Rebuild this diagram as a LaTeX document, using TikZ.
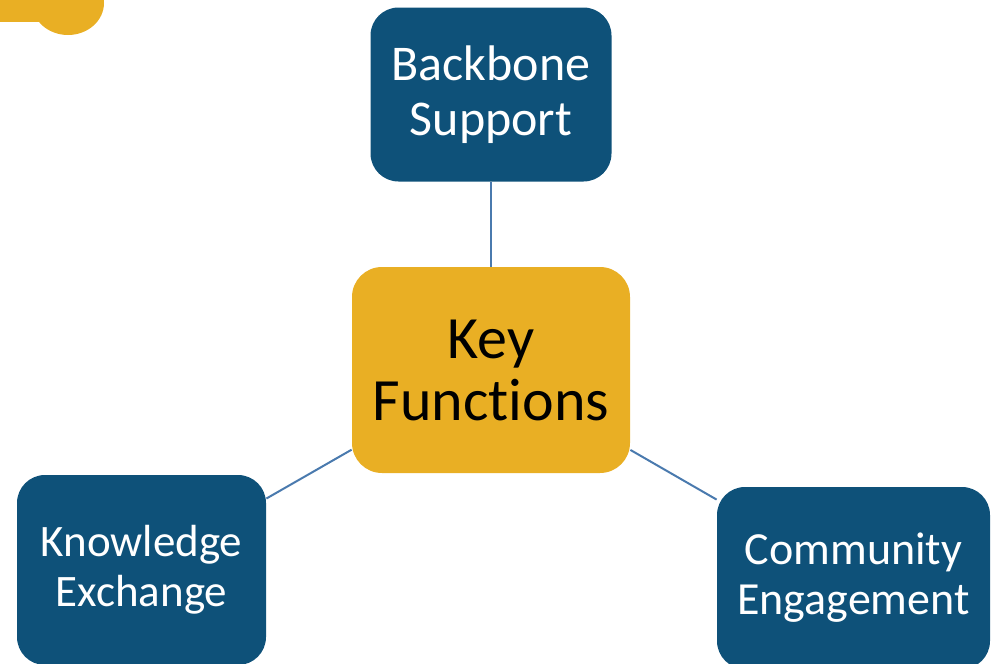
\documentclass[tikz,border=0pt]{standalone}
\usepackage{fontspec}
\setmainfont{Carlito}[Ligatures={NoCommon,NoContextual,NoRequired}]
\definecolor{hubgold}{HTML}{E9AF24}
\definecolor{spokeblue}{HTML}{0E5179}
\definecolor{linkblue}{HTML}{4A7AAE}
\begin{document}
\begin{tikzpicture}[x=0.5pt,y=-0.5pt,
    hub/.style={fill=hubgold,rounded corners=15pt,align=center,inner sep=0pt,
      minimum width=139pt,minimum height=103pt,font=\fontsize{30}{31}\selectfont},
    spoke/.style={fill=spokeblue,text=white,rounded corners=14pt,align=center,inner sep=0pt},
    link/.style={draw=linkblue,line width=1pt}]
  \useasboundingbox (0,0) rectangle (996,664);
  \clip (0,0) rectangle (996,664);
  % corner blob
  \fill[hubgold] (0,0) rectangle (40,22);
  \fill[hubgold] (68,3) ellipse [x radius=36, y radius=32];
  % hub and spokes
  \draw
    (491,370) node[hub] (key){Key\\Functions}
    (491,94.5) node[spoke,minimum width=120.5pt,minimum height=87pt,
      font=\fontsize{25}{27.5}\selectfont] (backbone){Backbone\\Support}
    (141.5,570) node[spoke,minimum width=124.5pt,minimum height=95pt,
      font=\fontsize{22.5}{25}\selectfont] (knowledge){Knowledge\\Exchange}
    (853.5,578) node[spoke,minimum width=136.5pt,minimum height=91pt,
      font=\fontsize{23}{25}\selectfont] (community){Community\\Engagement};
  \begin{scope}[link]
    \draw (key) to (backbone);
    \draw (key) to (knowledge);
    \draw (key) to (community);
  \end{scope}
\end{tikzpicture}
\end{document}
